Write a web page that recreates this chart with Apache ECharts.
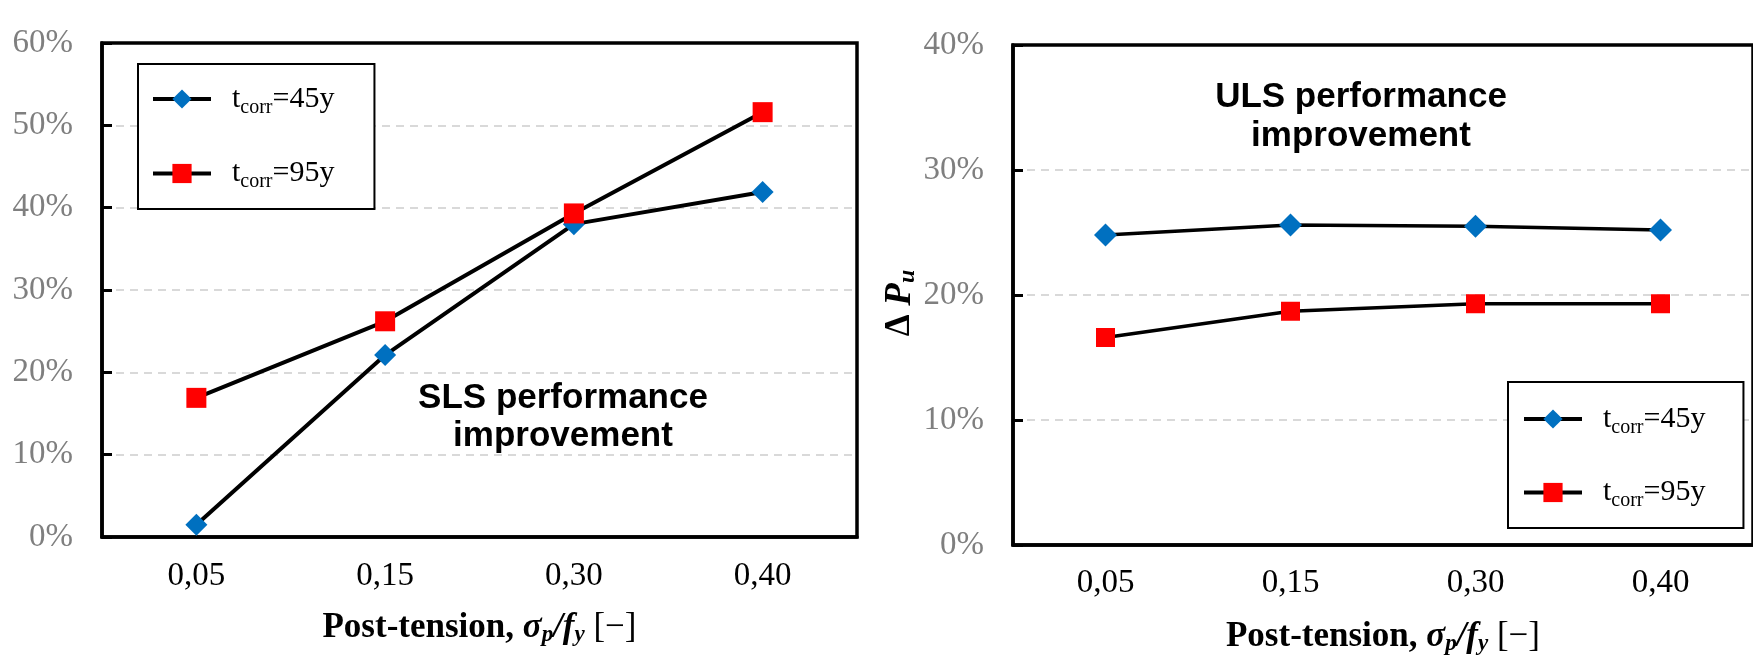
<!DOCTYPE html>
<html>
<head>
<meta charset="utf-8">
<script src="https://cdn.jsdelivr.net/npm/echarts@6/dist/echarts.min.js"></script>
<style>
  html, body { margin: 0; padding: 0; background: #fff; }
  #chart { width: 1753px; height: 661px; }
</style>
</head>
<body>
<div id="chart"></div>
<script>
// data (percent)
const categories = ['0,05', '0,15', '0,30', '0,40']
const seriesNames = ['t45', 't95']
const legendLabels = { t45: '=45y', t95: '=95y' }
const slsT45 = [1.5, 22.1, 38.0, 41.9]
const slsT95 = [16.9, 26.2, 39.3, 51.6]
const ulsT45 = [24.8, 25.6, 25.5, 25.2]
const ulsT95 = [16.6, 18.7, 19.3, 19.3]
const slsMax = 60
const ulsMax = 40
const yStep = 10

const serif = '"Liberation Serif", "Times New Roman", serif'
const sans = '"Liberation Sans", Arial, sans-serif'

const xNameRich = {
  b: { fontFamily: serif, fontWeight: 'bold', fontSize: 35, color: '#000' },
  i: { fontFamily: serif, fontWeight: 'bold', fontStyle: 'italic', fontSize: 35, color: '#000' },
  s: { fontFamily: serif, fontWeight: 'bold', fontStyle: 'italic', fontSize: 23, color: '#000', padding: [15, 0, 0, 0] },
  r: { fontFamily: serif, fontSize: 35, color: '#000' },
}
const xName = '{b|Post-tension, }{i|σ}{s|p}{i|/f}{s|y}{r| [−]}'

const legendRich = {
  t: { fontFamily: serif, fontSize: 30, color: '#000' },
  s: { fontFamily: serif, fontSize: 20, color: '#000', padding: [17, 0, 0, 0] },
}

function xAxis(gridIndex, gap, margin) {
  return {
    type: 'category',
    gridIndex,
    data: categories,
    boundaryGap: true,
    axisTick: { show: false },
    axisLine: { lineStyle: { color: '#000', width: 3.5 } },
    axisLabel: { fontFamily: serif, fontSize: 33, color: '#000', margin },
    name: xName,
    nameLocation: 'middle',
    nameGap: gap,
    nameTextStyle: { rich: xNameRich },
  }
}

function yAxis(gridIndex, max, extra) {
  return Object.assign({
    type: 'value',
    gridIndex,
    min: 0,
    max,
    interval: yStep,
    axisLine: { show: true, lineStyle: { color: '#000', width: 3.5 } },
    axisTick: { show: true, inside: true, length: 10, lineStyle: { color: '#000', width: 3 } },
    axisLabel: { fontFamily: serif, fontSize: 33, color: '#7f7f7f', margin: 29, formatter: v => v + '%' },
    splitLine: { show: true, showMinLine: false, showMaxLine: false,
      lineStyle: { color: '#d9d9d9', width: 2, type: [8, 6] } },
  }, extra)
}

function lineSeries(name, data, idx, symbol, size, color, width) {
  return {
    name,
    type: 'line',
    xAxisIndex: idx,
    yAxisIndex: idx,
    data,
    symbol,
    symbolSize: size,
    lineStyle: { color: '#000', width },
    itemStyle: { color },
    emphasis: { disabled: true },
  }
}

function legend(left, top, padding, gap) {
  return {
    data: seriesNames,
    orient: 'vertical',
    left,
    top,
    padding,
    itemWidth: 58,
    itemHeight: 24,
    itemGap: gap,
    selectedMode: false,
    borderColor: '#000',
    borderWidth: 2,
    backgroundColor: '#fff',
    lineStyle: { color: '#000', width: 4 },
    formatter: n => '{t|t}{s|corr}{t|' + legendLabels[n] + '}',
    textStyle: { padding: [0, 0, 0, 16], rich: legendRich },
  }
}

const option = {
  animation: false,
  backgroundColor: '#fff',
  grid: [
    { left: 102, top: 43, width: 755, height: 494, show: true, borderColor: '#000', borderWidth: 3.5 },
    { left: 1013, top: 45, width: 746, height: 503, show: true, borderColor: '#000', borderWidth: 3.5 },
  ],
  xAxis: [xAxis(0, 72, 23), xAxis(1, 73, 22)],
  yAxis: [
    yAxis(0, slsMax),
    yAxis(1, ulsMax, {
      name: '{d|Δ }{p|P}{s|u}',
      nameLocation: 'middle',
      nameRotate: 90,
      nameGap: 86,
      nameTextStyle: {
        rich: {
          d: { fontFamily: serif, fontWeight: 'bold', fontSize: 35, color: '#000' },
          p: { fontFamily: serif, fontWeight: 'bold', fontStyle: 'italic', fontSize: 37, color: '#000' },
          s: { fontFamily: serif, fontWeight: 'bold', fontStyle: 'italic', fontSize: 24, color: '#000', padding: [15, 16, 0, 0] },
        },
      },
    }),
  ],
  legend: [
    legend(138, 64, [20, 40, 17, 13], 41),
    legend(1508, 382, [22, 38, 17, 14], 40),
  ],
  graphic: [
    {
      type: 'text', x: 563, y: 417, z: 10,
      style: { text: 'SLS performance\nimprovement', align: 'center', verticalAlign: 'middle',
        font: 'bold 35px ' + sans, lineHeight: 38, fill: '#000' },
    },
    {
      type: 'text', x: 1361, y: 117, z: 10,
      style: { text: 'ULS performance\nimprovement', align: 'center', verticalAlign: 'middle',
        font: 'bold 35px ' + sans, lineHeight: 39, fill: '#000' },
    },
  ],
  series: [
    lineSeries('t45', slsT45, 0, 'diamond', 22, '#0070C0', 4),
    lineSeries('t95', slsT95, 0, 'rect', 20, '#FF0000', 4),
    lineSeries('t45', ulsT45, 1, 'diamond', 23, '#0070C0', 3.5),
    lineSeries('t95', ulsT95, 1, 'rect', 19, '#FF0000', 3.5),
  ],
}

const chart = echarts.init(document.getElementById('chart'))
chart.setOption(option)
</script>
</body>
</html>
